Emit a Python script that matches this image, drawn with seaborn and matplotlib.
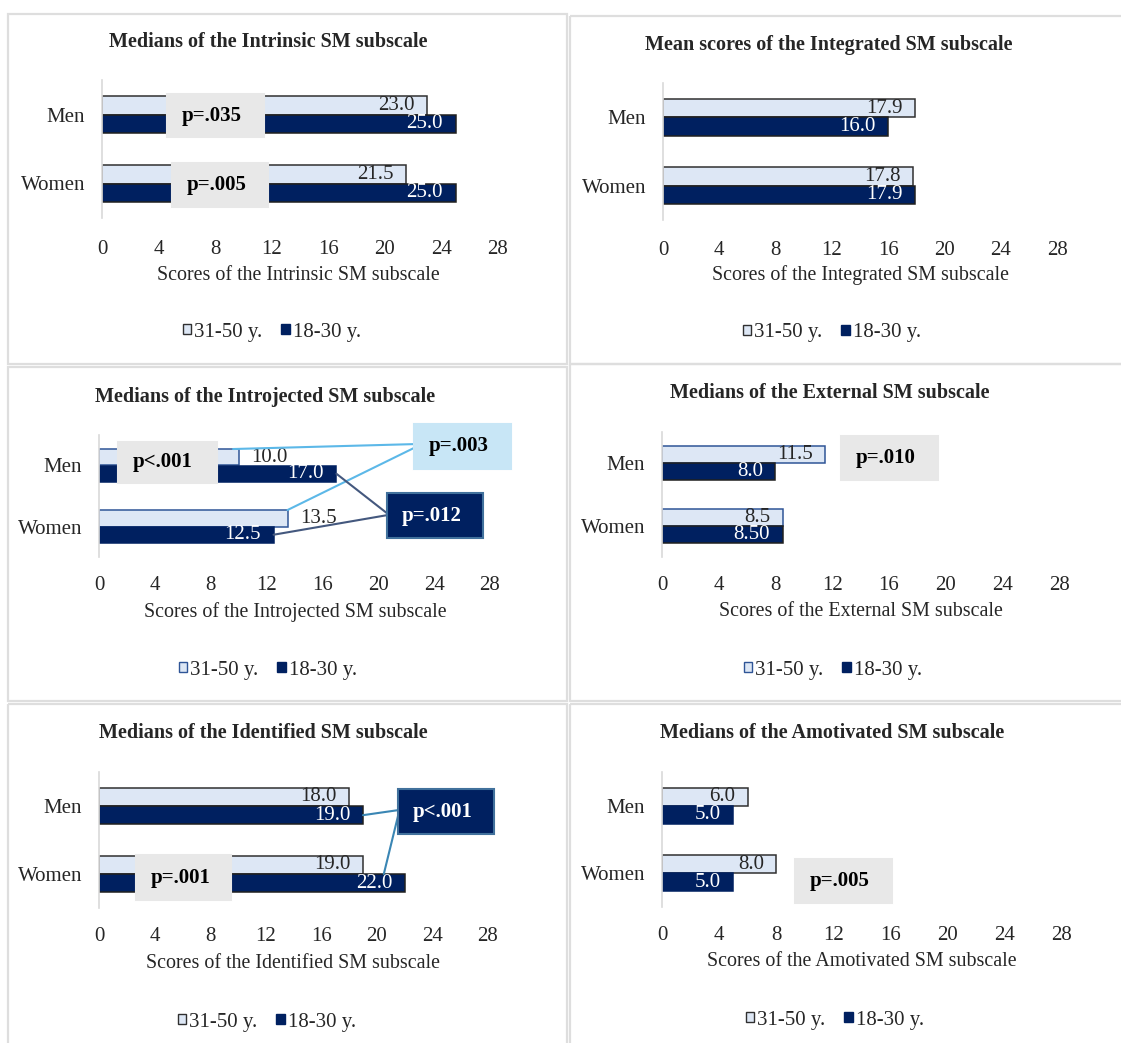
import numpy as np
import pandas as pd
import matplotlib
matplotlib.use("Agg")
import matplotlib.pyplot as plt
from matplotlib.transforms import Affine2D
from matplotlib.patches import Rectangle, Patch, ConnectionPatch
import seaborn as sns

# ---------------------------------------------------------------- data
categories = ["Men", "Women"]
age_groups = ["31-50 y.", "18-30 y."]
x_ticks = [0, 4, 8, 12, 16, 20, 24, 28]

intrinsic_31_50 = [23.0, 21.5]
intrinsic_18_30 = [25.0, 25.0]
integrated_31_50 = [17.9, 17.8]
integrated_18_30 = [16.0, 17.9]
introjected_31_50 = [10.0, 13.5]
introjected_18_30 = [17.0, 12.5]
external_31_50 = [11.5, 8.5]
external_18_30 = [8.0, 8.5]
identified_31_50 = [18.0, 19.0]
identified_18_30 = [19.0, 22.0]
amotivated_31_50 = [6.0, 8.0]
amotivated_18_30 = [5.0, 5.0]

titles = [
    "Medians of the Intrinsic SM subscale",
    "Mean scores of the Integrated SM subscale",
    "Medians of the Introjected SM subscale",
    "Medians of the External SM subscale",
    "Medians of the Identified SM subscale",
    "Medians of the Amotivated SM subscale",
]
xlabels = [
    "Scores of the Intrinsic SM subscale",
    "Scores of the Integrated SM subscale",
    "Scores of the Introjected SM subscale",
    "Scores of the External SM subscale",
    "Scores of the Identified SM subscale",
    "Scores of the Amotivated SM subscale",
]
older_values = [intrinsic_31_50, integrated_31_50, introjected_31_50,
                external_31_50, identified_31_50, amotivated_31_50]
younger_values = [intrinsic_18_30, integrated_18_30, introjected_18_30,
                  external_18_30, identified_18_30, amotivated_18_30]
# decimals printed on each bar label (older, younger) per panel
label_decimals = [
    ([1, 1], [1, 1]),
    ([1, 1], [1, 1]),
    ([1, 1], [1, 1]),
    ([1, 1], [1, 2]),
    ([1, 1], [1, 1]),
    ([1, 1], [1, 1]),
]

# ---------------------------------------------------------------- style
W, H = 1121, 1043
LIGHT = "#dde7f5"
NAVY = "#002060"
GRAY_BOX = "#e8e8e8"
SKY_BOX = "#c8e6f6"
TEXT = "#262626"
BORDER = "#dedede"
FS = 15

sns.set_theme(style="white")
plt.rcParams["font.family"] = ["Liberation Serif", "DejaVu Serif"]

fig = plt.figure(figsize=(W / 100, H / 100), dpi=100)
fig.patch.set_facecolor("white")
# pixel coordinates, origin at the top-left corner of the canvas
px = Affine2D().scale(1 / W, -1 / H).translate(0, 1) + fig.transFigure

# panel frames (l, t, r, b)
frames = [
    (8, 14, 567, 364), (570, 16, 1125, 364),
    (8, 367, 567, 701), (570, 364, 1125, 701),
    (8, 704, 567, 1046), (570, 704, 1125, 1046),
]

layouts = [
    dict(axes=(102, 80, 498, 218), title=(268, 42), xlab=(298, 275), leg=(272, 332),
         xpad=16, edges=("#303030", "#202020"), leg_edge="#303030", outside=[False, False]),
    dict(axes=(663, 83, 1057, 220), title=(829, 45), xlab=(860, 275), leg=(832, 333),
         xpad=15, edges=("#303030", "#202020"), leg_edge="#303030", outside=[False, False]),
    dict(axes=(99, 435, 490, 557), title=(265, 397), xlab=(295, 612), leg=(268, 670),
         xpad=14, edges=("#2f5597", NAVY), leg_edge="#2f5597", outside=[True, True]),
    dict(axes=(662, 432, 1059, 557), title=(830, 393), xlab=(861, 612), leg=(833, 670),
         xpad=14, edges=("#2f5597", "#202020"), leg_edge="#2f5597", outside=[False, False]),
    dict(axes=(99, 772, 488, 908), title=(263, 733), xlab=(293, 963), leg=(267, 1022),
         xpad=14, edges=("#303030", "#202020"), leg_edge="#303030", outside=[False, False]),
    dict(axes=(662, 772, 1062, 907), title=(832, 733), xlab=(862, 962), leg=(835, 1020),
         xpad=14, edges=("#303030", NAVY), leg_edge="#303030", outside=[False, False]),
]

# significance boxes: panel, text, (l, t, r, b), face, edge, text colour
p_boxes = [
    (0, "p=.035", (167, 94, 264, 137), GRAY_BOX, GRAY_BOX, "black"),
    (0, "p=.005", (172, 163, 268, 207), GRAY_BOX, GRAY_BOX, "black"),
    (2, "p<.001", (118, 442, 217, 483), GRAY_BOX, GRAY_BOX, "black"),
    (2, "p=.003", (414, 424, 511, 469), SKY_BOX, SKY_BOX, "black"),
    (2, "p=.012", (387, 493, 483, 538), NAVY, "#41719c", "white"),
    (3, "p=.010", (841, 436, 938, 480), GRAY_BOX, GRAY_BOX, "black"),
    (4, "p=.001", (136, 855, 231, 900), GRAY_BOX, GRAY_BOX, "black"),
    (4, "p<.001", (398, 789, 494, 834), NAVY, "#41719c", "white"),
    (5, "p=.005", (795, 859, 892, 903), GRAY_BOX, GRAY_BOX, "black"),
]

# connectors: panel, start point (px), series index, category index, anchor, x shift, colour
connectors = [
    (2, (418, 444), 0, 0, "top", -0.4, "#5cb8e8"),
    (2, (420, 445), 0, 1, "top", 0.0, "#5cb8e8"),
    (2, (388, 514), 1, 0, "mid", 0.0, "#44587e"),
    (2, (388, 515), 1, 1, "mid", 0.0, "#44587e"),
    (4, (399, 810), 1, 0, "mid", 0.0, "#3a86b4"),
    (4, (399, 812), 1, 1, "top", -1.5, "#3a86b4"),
]

axes_list = []
for i in range(6):
    lay = layouts[i]
    l, t, r, b = lay["axes"]
    ax = fig.add_axes([l / W, 1 - b / H, (r - l) / W, (b - t) / H])
    ax.set_facecolor("none")
    df = pd.DataFrame({
        "sex": categories * 2,
        "age": [age_groups[0]] * 2 + [age_groups[1]] * 2,
        "score": list(older_values[i]) + list(younger_values[i]),
    })
    sns.barplot(data=df, x="score", y="sex", hue="age", order=categories,
                hue_order=age_groups, palette=[LIGHT, NAVY], width=0.54,
                orient="h", errorbar=None, saturation=1, legend=False, ax=ax)

    for ci, cont in enumerate(ax.containers):
        for j, bar in enumerate(cont):
            bar.set_edgecolor(lay["edges"][ci])
            bar.set_linewidth(1.1)
            bar.set_zorder(2)
            val = bar.get_width()
            yc = bar.get_y() + bar.get_height() / 2
            txt = f"{val:.{label_decimals[i][ci][j]}f}"
            if ci == 0 and lay["outside"][j]:
                ax.annotate(txt, (val, yc), xytext=(9, 0), textcoords="offset points",
                            ha="left", va="center", fontsize=FS, color=TEXT, zorder=3)
            else:
                ax.annotate(txt, (val, yc), xytext=(-9, 0), textcoords="offset points",
                            ha="right", va="center", fontsize=FS,
                            color=TEXT if ci == 0 else "white", zorder=3)

    ax.set_xlim(0, 28)
    ax.set_xticks(x_ticks)
    ax.set_ylabel("")
    for s in ["top", "right", "bottom"]:
        ax.spines[s].set_visible(False)
    ax.spines["left"].set_color("#d9d9d9")
    ax.spines["left"].set_linewidth(1.2)
    ax.tick_params(axis="both", length=0, labelsize=FS, labelcolor=TEXT)
    ax.tick_params(axis="x", pad=lay["xpad"])
    ax.tick_params(axis="y", pad=12)
    ax.set_xlabel(xlabels[i], fontsize=14.4, color=TEXT)
    ax.xaxis.set_label_coords(lay["xlab"][0], lay["xlab"][1], transform=px)
    ax.xaxis.label.set_va("center")

    fig.text(lay["title"][0], lay["title"][1], titles[i], transform=px,
             ha="center", va="center", fontsize=14.5, fontweight="bold", color=TEXT)

    handles = [Patch(facecolor=LIGHT, edgecolor=lay["leg_edge"], linewidth=1.0),
               Patch(facecolor=NAVY, edgecolor=NAVY, linewidth=1.0)]
    fig.legend(handles, age_groups, loc="center", bbox_to_anchor=lay["leg"],
               bbox_transform=px, ncol=2, frameon=False, fontsize=FS,
               handlelength=0.42, handleheight=0.42, handletextpad=0.15,
               columnspacing=0.9, borderpad=0, labelcolor=TEXT)
    axes_list.append(ax)

# panel frames
for (l, t, r, b) in frames:
    fig.add_artist(Rectangle((l, t), r - l, b - t, transform=px, fill=False,
                             edgecolor=BORDER, linewidth=1.6, zorder=0))

# connector lines from significance boxes to bars
for (pi, start, ci, j, anchor, dx, color) in connectors:
    ax = axes_list[pi]
    bar = ax.containers[ci][j]
    x_end = bar.get_width() + dx
    y_end = bar.get_y() if anchor == "top" else bar.get_y() + bar.get_height() / 2
    con = ConnectionPatch(xyA=start, coordsA=px, xyB=(x_end, y_end), coordsB=ax.transData,
                          color=color, linewidth=1.5, zorder=4)
    fig.add_artist(con)

# significance boxes
for (pi, text, (l, t, r, b), face, edge, tcol) in p_boxes:
    fig.add_artist(Rectangle((l, t), r - l, b - t, transform=px, facecolor=face,
                             edgecolor=edge, linewidth=1.5, zorder=5))
    fig.text(l + 15, (t + b) / 2, text, transform=px, ha="left", va="center",
             fontsize=FS, fontweight="bold", color=tcol, zorder=6)

fig.savefig("out.png", dpi=100)
